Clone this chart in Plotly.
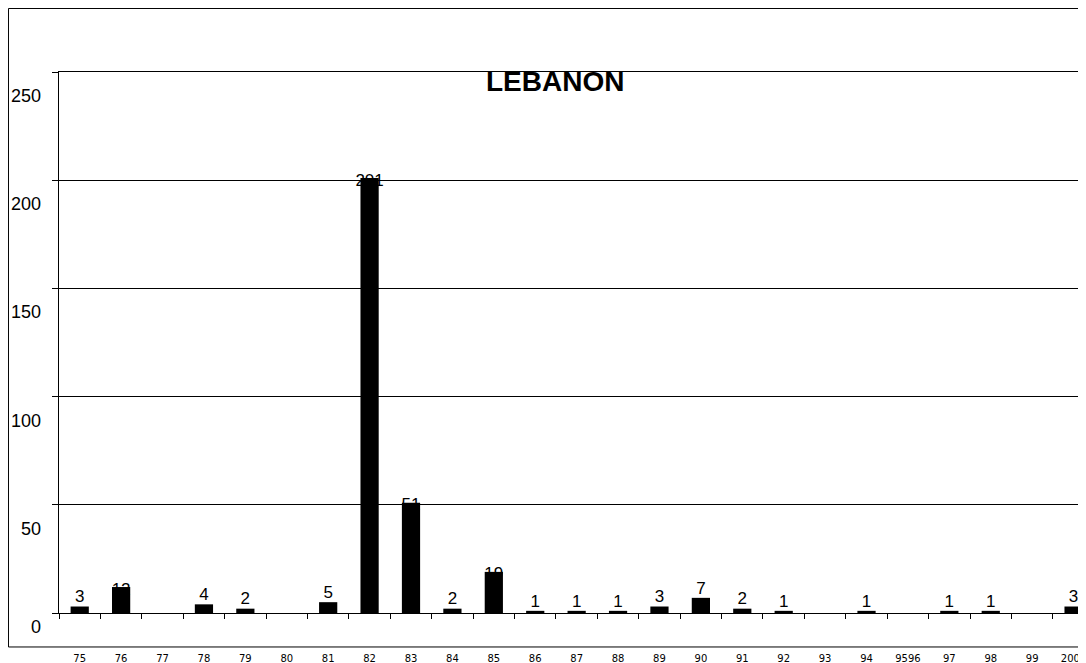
import plotly.graph_objects as go

# counts per year
years = ['75', '76', '77', '78', '79', '80', '81', '82', '83', '84', '85', '86', '87',
         '88', '89', '90', '91', '92', '93', '94', '9596', '97', '98', '99', '2000']
counts = [3, 12, 0, 4, 2, 0, 5, 201, 51, 2, 19, 1, 1, 1, 3, 7, 2, 1, 0, 1, 0, 1, 1, 0, 3]
y_ticks = [0, 50, 100, 150, 200, 250]

FONT = 'Liberation Sans, Arial, sans-serif'

labels = [str(c) if c else '' for c in counts]
# small bars get the label above; on tall bars it sits on the top edge,
# a little low, so the bar hides part of it (as in the original)
label_pos = ['middle center' if c >= 10 else 'top center' for c in counts]
label_y = [c - 1.5 if c >= 10 else c for c in counts]

fig = go.Figure()

# labels sit on the base axis so the bars (on the overlaid axis) are drawn over them
fig.add_trace(go.Scatter(
    x=years, y=label_y, mode='text', text=labels, textposition=label_pos,
    textfont=dict(family=FONT, size=17, color='black'),
    cliponaxis=False, hoverinfo='skip'
))

fig.add_trace(go.Bar(
    x=years, y=counts, yaxis='y2',
    marker=dict(color='black', line=dict(width=0)),
    width=0.44
))

# the page body adds an 8px margin, so the figure is 8px smaller each way
fig.update_layout(
    width=1078,
    height=655,
    margin=dict(l=51, r=0, t=64, b=50),
    plot_bgcolor='white',
    paper_bgcolor='white',
    showlegend=False,
    xaxis=dict(
        type='category',
        range=[-0.5, 24.3],
        tickson='boundaries',
        ticks='outside', ticklen=5, tickcolor='black',
        showline=True, linecolor='black', linewidth=1, mirror=True,
        showgrid=False,
        tickfont=dict(family='DejaVu Sans, sans-serif', size=10, color='black'),
        ticklabelstandoff=36,
    ),
    yaxis=dict(
        range=[0, 250],
        tickvals=y_ticks,
        showticklabels=False,
        ticks='outside', ticklen=6, tickcolor='black',
        showgrid=True, gridcolor='black', gridwidth=1,
        showline=True, linecolor='black', linewidth=1,
        zeroline=False,
    ),
    yaxis2=dict(overlaying='y', range=[0, 250], visible=False),
)

# y tick labels, drawn a little below their gridlines as in the original
for v in y_ticks:
    fig.add_annotation(
        text=str(v), xref='paper', x=0, xanchor='right', xshift=-16,
        yref='y', y=v, yanchor='middle', yshift=-14 if v == 0 else -24,
        showarrow=False, font=dict(family=FONT, size=18, color='black')
    )

fig.add_annotation(
    text='<b>LEBANON</b>', xref='paper', yref='paper', x=0.483, y=0.983,
    xanchor='center', yanchor='middle', showarrow=False,
    font=dict(family=FONT, size=28, color='black')
)

# outer chart border
fig.add_shape(
    type='rect', xref='paper', yref='paper',
    x0=-0.0492, x1=1.01, y0=-0.0628, y1=1.1174,
    line=dict(color='black', width=1), layer='below'
)

fig.write_html("out.html")
